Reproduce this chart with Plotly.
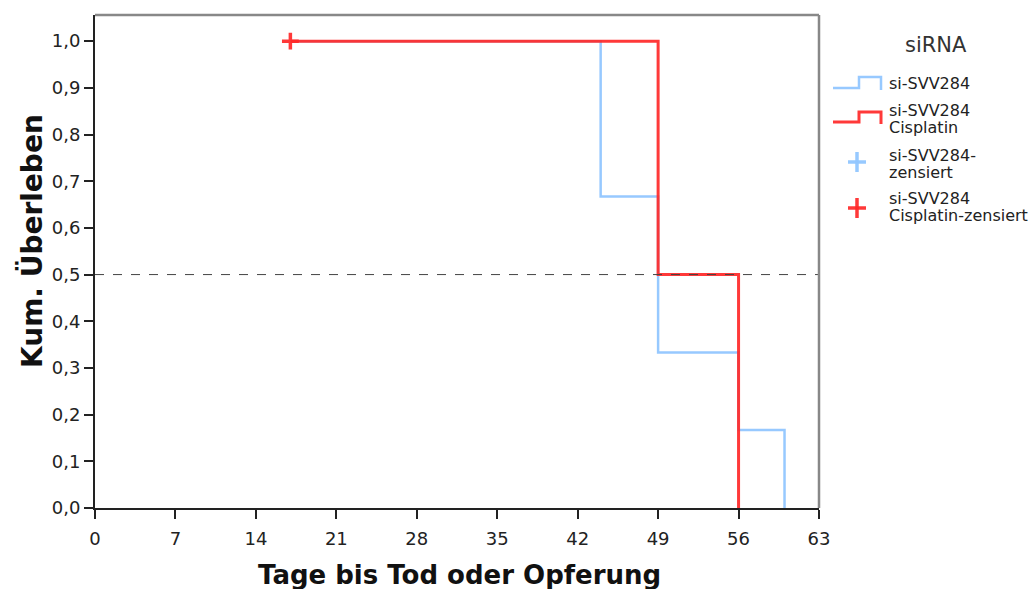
import plotly.graph_objects as go

# Data (Kaplan-Meier step curves)
blue_t = [17, 44, 44, 49, 49, 56, 56, 60, 60]
blue_s = [1.0, 1.0, 0.667, 0.667, 0.333, 0.333, 0.167, 0.167, 0.0]
red_t = [17, 49, 49, 56, 56]
red_s = [1.0, 1.0, 0.5, 0.5, 0.0]
red_cens_t = [17]
red_cens_s = [1.0]

x_ticks = [0, 7, 14, 21, 28, 35, 42, 49, 56, 63]
y_ticks = [0.0, 0.1, 0.2, 0.3, 0.4, 0.5, 0.6, 0.7, 0.8, 0.9, 1.0]
y_labels = ["0,0", "0,1", "0,2", "0,3", "0,4", "0,5", "0,6", "0,7", "0,8", "0,9", "1,0"]

BLUE = "rgba(145,198,255,0.95)"
RED = "rgba(255,40,40,0.92)"
FONT = "DejaVu Sans"

W, H = 1033, 589
L, R, T, B = 95, 819, 15, 508

fig = go.Figure()
fig.add_trace(go.Scatter(x=blue_t, y=blue_s, mode="lines", line=dict(color=BLUE, width=2.5), showlegend=False))
fig.add_trace(go.Scatter(x=red_t, y=red_s, mode="lines", line=dict(color=RED, width=3), showlegend=False))
fig.add_trace(go.Scatter(x=red_cens_t, y=red_cens_s, mode="markers",
                         marker=dict(symbol="cross-thin", size=12, line=dict(color=RED, width=3.5)), showlegend=False))

fig.add_shape(type="line", xref="x", yref="y", x0=0, x1=63, y0=0.5, y1=0.5,
              line=dict(color="#444", width=1, dash="dash"))
# frame (top/right in gray)
fig.add_shape(type="line", xref="paper", yref="paper", x0=0, x1=1, y0=1, y1=1, line=dict(color="#888", width=2.5))
fig.add_shape(type="line", xref="paper", yref="paper", x0=1, x1=1, y0=0, y1=1, line=dict(color="#888", width=2.5))

def px(x):
    return (x - L) / (R - L)

def py(y):
    return (B - y) / (B - T)

# axis titles
fig.add_annotation(x=px(459), y=py(575), xref="paper", yref="paper", text="<b>Tage bis Tod oder Opferung</b>",
                   showarrow=False, xanchor="center", yanchor="middle",
                   font=dict(family=FONT, size=26, color="#111"))
fig.add_annotation(x=px(32), y=py(241), xref="paper", yref="paper", text="<b>Kum. Überleben</b>",
                   showarrow=False, textangle=-90, xanchor="center", yanchor="middle",
                   font=dict(family=FONT, size=28, color="#111"))

# custom legend
fig.add_annotation(x=px(936), y=py(45), xref="paper", yref="paper", text="siRNA", showarrow=False,
                   xanchor="center", yanchor="middle",
                   font=dict(family=FONT, size=21, color="#333"))

def step_icon(ylow, yhigh, color, w):
    path = (f"M {px(833)},{py(ylow)} L {px(859)},{py(ylow)} L {px(859)},{py(yhigh)} "
            f"L {px(881)},{py(yhigh)} L {px(881)},{py(ylow + 2)}")
    fig.add_shape(type="path", xref="paper", yref="paper", path=path, line=dict(color=color, width=w))

def cross_icon(yc, color):
    fig.add_shape(type="line", xref="paper", yref="paper", x0=px(848), x1=px(866), y0=py(yc), y1=py(yc),
                  line=dict(color=color, width=3.5))
    fig.add_shape(type="line", xref="paper", yref="paper", x0=px(857), x1=px(857), y0=py(yc - 10), y1=py(yc + 10),
                  line=dict(color=color, width=3.5))

def legend_line(yc, text):
    fig.add_annotation(x=px(887), y=py(yc), xref="paper", yref="paper", text=text, showarrow=False,
                       xanchor="left", yanchor="middle", align="left",
                       font=dict(family=FONT, size=16, color="#222"))

step_icon(88, 77, BLUE, 2.5)
legend_line(83, "si-SVV284")
step_icon(122, 112, RED, 3)
legend_line(110, "si-SVV284")
legend_line(128, "Cisplatin")
cross_icon(162, BLUE)
legend_line(155, "si-SVV284-")
legend_line(172, "zensiert")
cross_icon(208, RED)
legend_line(198, "si-SVV284")
legend_line(216, "Cisplatin-zensiert")

fig.update_layout(
    width=W, height=H,
    margin=dict(l=L, r=W - R, t=T, b=H - B),
    plot_bgcolor="white", paper_bgcolor="white",
    font=dict(family=FONT, color="#222"),
    xaxis=dict(range=[0, 63], tickvals=x_ticks, ticks="outside", ticklen=9, tickwidth=2, tickcolor="#222",
               showline=True, linecolor="#222", linewidth=2, showgrid=False, zeroline=False,
               ticklabelstandoff=4,
               tickfont=dict(family=FONT, size=18, color="#222")),
    yaxis=dict(range=[0, 1.056], tickvals=y_ticks, ticktext=y_labels, ticks="outside", ticklen=9, tickwidth=2,
               tickcolor="#222", showline=True, linecolor="#222", linewidth=2, showgrid=False, zeroline=False,
               tickfont=dict(family=FONT, size=18, color="#222")),
)

fig.write_html("out.html")
